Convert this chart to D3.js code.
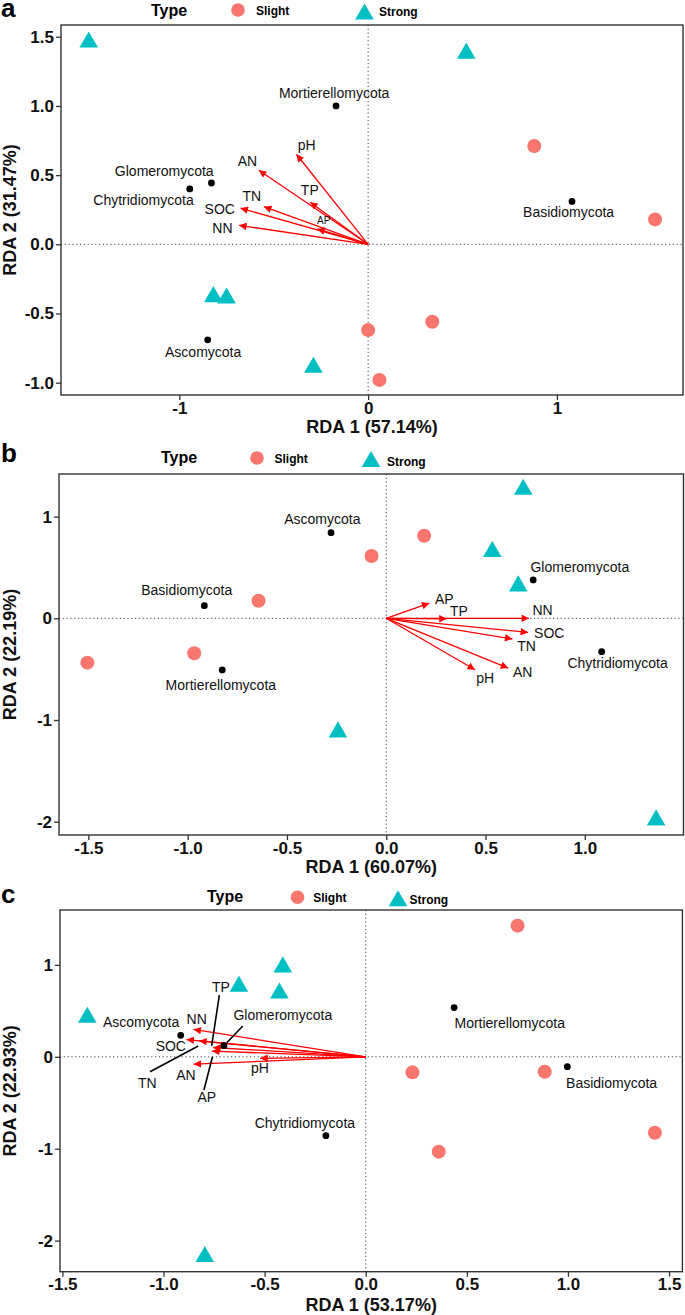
<!DOCTYPE html>
<html><head><meta charset="utf-8">
<script src="https://cdn.jsdelivr.net/npm/d3@7/dist/d3.min.js"></script>
<style>
body{margin:0;background:#fff}
svg{display:block}
text{font-family:"Liberation Sans",Arial,Helvetica,sans-serif}
</style>
</head><body>
<svg id="chart" width="685" height="1315"></svg>
<script>
// ---------------- Panel a ----------------
const aSiteType = ["Strong","Strong","Strong","Strong","Strong","Slight","Slight","Slight","Slight","Slight"];
const aSiteX = [-1.48, 0.52, -0.82, -0.75, -0.29, 0.88, 1.52, 0.00, 0.34, 0.06];
const aSiteY = [1.48, 1.40, -0.36, -0.37, -0.87, 0.71, 0.18, -0.62, -0.56, -0.98];
const aSpecies = ["Mortierellomycota","Glomeromycota","Chytridiomycota","Basidiomycota","Ascomycota"];
const aSpeciesX = [-0.17, -0.83, -0.945, 1.08, -0.85];
const aSpeciesY = [1.00, 0.443, 0.40, 0.31, -0.69];
const aSpeciesLabelX = [-0.18, -1.08, -1.19, 1.062, -0.874];
const aSpeciesLabelY = [1.097, 0.527, 0.317, 0.235, -0.78];
const aEnv = ["pH","AN","TP","TN","SOC","NN","AP"];
const aEnvX = [-0.388, -0.59, -0.318, -0.565, -0.689, -0.697, -0.282];
const aEnvY = [0.665, 0.545, 0.315, 0.278, 0.266, 0.140, 0.116];
const aEnvLabelX = [-0.326, -0.639, -0.309, -0.616, -0.786, -0.772, -0.235];
const aEnvLabelY = [0.721, 0.60, 0.392, 0.349, 0.254, 0.121, 0.174];
const aXTicks = [-1, 0, 1];
const aYTicks = [1.5, 1.0, 0.5, 0.0, -0.5, -1.0];
const aXTitle = "RDA 1 (57.14%)";
const aYTitle = "RDA 2 (31.47%)";

// ---------------- Panel b ----------------
const bSiteType = ["Strong","Strong","Strong","Strong","Strong","Slight","Slight","Slight","Slight","Slight"];
const bSiteX = [0.69, 0.534, 0.665, -0.243, 1.359, 0.191, -0.074, -0.643, -1.505, -0.967];
const bSiteY = [1.294, 0.681, 0.344, -1.092, -1.957, 0.812, 0.613, 0.173, -0.436, -0.344];
const bSpecies = ["Ascomycota","Glomeromycota","Basidiomycota","Chytridiomycota","Mortierellomycota"];
const bSpeciesX = [-0.278, 0.740, -0.916, 1.085, -0.826];
const bSpeciesY = [0.842, 0.377, 0.124, -0.328, -0.508];
const bSpeciesLabelX = [-0.322, 0.975, -1.005, 1.165, -0.833];
const bSpeciesLabelY = [0.973, 0.507, 0.278, -0.443, -0.656];
const bEnv = ["AP","TP","NN","SOC","TN","AN","pH"];
const bEnvX = [0.229, 0.317, 0.732, 0.727, 0.648, 0.626, 0.458];
const bEnvY = [0.157, -0.005, 0.0, -0.141, -0.207, -0.499, -0.518];
const bEnvLabelX = [0.292, 0.366, 0.787, 0.821, 0.707, 0.687, 0.498];
const bEnvLabelY = [0.19, 0.072, 0.082, -0.147, -0.269, -0.525, -0.59];
const bXTicks = [-1.5, -1.0, -0.5, 0.0, 0.5, 1.0];
const bYTicks = [1, 0, -1, -2];
const bXTitle = "RDA 1 (60.07%)";
const bYTitle = "RDA 2 (22.19%)";

// ---------------- Panel c ----------------
const cSiteType = ["Strong","Strong","Strong","Strong","Strong","Slight","Slight","Slight","Slight","Slight"];
const cSiteX = [-0.41, -0.627, -0.427, -1.377, -0.796, 0.751, 0.231, 0.885, 0.361, 1.43];
const cSiteY = [1.005, 0.795, 0.722, 0.458, -2.146, 1.427, -0.169, -0.162, -1.032, -0.826];
const cSpecies = ["Mortierellomycota","Ascomycota","Glomeromycota","Basidiomycota","Chytridiomycota"];
const cSpeciesX = [0.437, -0.915, -0.701, 0.997, -0.197];
const cSpeciesY = [0.535, 0.234, 0.121, -0.107, -0.858];
const cSpeciesLabelX = [0.712, -1.111, -0.41, 1.216, -0.301];
const cSpeciesLabelY = [0.371, 0.382, 0.455, -0.289, -0.717];
const cSpeciesLeaderX = [null, null, -0.608, null, null];
const cSpeciesLeaderY = [null, null, 0.335, null, null];
const cEnv = ["NN","SOC","TN","TP","AP","AN","pH"];
const cEnvX = [-0.864, -0.899, -0.836, -0.767, -0.773, -0.864, -0.534];
const cEnvY = [0.302, 0.19, 0.175, 0.103, 0.063, -0.082, -0.017];
const cEnvLabelX = [-0.836, -0.964, -1.08, -0.716, -0.786, -0.889, -0.523];
const cEnvLabelY = [0.408, 0.118, -0.282, 0.763, -0.434, -0.198, -0.125];
const cEnvLeaderX = [null, null, -1.067, -0.724, -0.80, null, null];
const cEnvLeaderY = [null, null, -0.162, 0.672, -0.361, null, null];
const cEnvLeaderEndX = [null, null, -0.828, -0.762, -0.758, null, null];
const cEnvLeaderEndY = [null, null, 0.118, 0.118, 0.0, null, null];
const cXTicks = [-1.5, -1.0, -0.5, 0.0, 0.5, 1.0, 1.5];
const cYTicks = [1, 0, -1, -2];
const cXTitle = "RDA 1 (53.17%)";
const cYTitle = "RDA 2 (22.93%)";

const legendTitle = "Type";
const legendKeys = ["Slight","Strong"];
const typeColor = {Slight: "#F8766D", Strong: "#00BFC4"};

// ---------------- layout ----------------
const svg = d3.select("#chart");
const defs = svg.append("defs");
defs.append("marker").attr("id","ah")
  .attr("viewBox","0 0 10 10").attr("refX",10).attr("refY",5)
  .attr("markerWidth",8).attr("markerHeight",7.5)
  .attr("markerUnits","userSpaceOnUse").attr("orient","auto")
  .append("path").attr("d","M0,0 L10,5 L0,10 Z").attr("fill","#FF0000");

const triPath = d3.symbol().type(d3.symbolTriangle).size(150)();
const triShift = 2.7; // bbox-centre the d3 triangle on its point

const panels = [
  {tag:"a", box:{l:61,r:683,t:25,b:395}, xd:[-1.627,1.668], yd:[-1.089,1.585],
   xFmt:d=>d.toFixed(0), yFmt:d=>d.toFixed(1),
   tagY:17, legend:{typeX:169, typeY:16, circX:238, circY:10, slX:256, slY:14.5, triX:364.5, triY:11.5, stX:379, stY:15.5},
   xTitleY:432.5,
   siteType:aSiteType, siteX:aSiteX, siteY:aSiteY,
   sp:aSpecies, spX:aSpeciesX, spY:aSpeciesY, spLX:aSpeciesLabelX, spLY:aSpeciesLabelY,
   env:aEnv, envX:aEnvX, envY:aEnvY, envLX:aEnvLabelX, envLY:aEnvLabelY, envSize:{AP:10},
   xTicks:aXTicks, yTicks:aYTicks, xTitle:aXTitle, yTitle:aYTitle},
  {tag:"b", box:{l:59,r:683.5,t:474,b:835}, xd:[-1.648,1.497], yd:[-2.131,1.419],
   xFmt:d=>d.toFixed(1), yFmt:d=>d.toFixed(0),
   tagY:462, legend:{typeX:179, typeY:463, circX:257, circY:458, slX:274.5, slY:463, triX:371, triY:459, stX:387, stY:466},
   xTitleY:873,
   siteType:bSiteType, siteX:bSiteX, siteY:bSiteY,
   sp:bSpecies, spX:bSpeciesX, spY:bSpeciesY, spLX:bSpeciesLabelX, spLY:bSpeciesLabelY,
   env:bEnv, envX:bEnvX, envY:bEnvY, envLX:bEnvLabelX, envLY:bEnvLabelY, envSize:{},
   xTicks:bXTicks, yTicks:bYTicks, xTitle:bXTitle, yTitle:bYTitle},
  {tag:"c", box:{l:60,r:682.4,t:910,b:1271.7}, xd:[-1.512,1.566], yd:[-2.338,1.597],
   xFmt:d=>d.toFixed(1), yFmt:d=>d.toFixed(0),
   tagY:903, legend:{typeX:225, typeY:902, circX:297.5, circY:897.3, slX:313.2, slY:902, triX:398, triY:898.3, stX:409.5, stY:904},
   xTitleY:1311,
   siteType:cSiteType, siteX:cSiteX, siteY:cSiteY,
   sp:cSpecies, spX:cSpeciesX, spY:cSpeciesY, spLX:cSpeciesLabelX, spLY:cSpeciesLabelY,
   spLeadX:cSpeciesLeaderX, spLeadY:cSpeciesLeaderY,
   env:cEnv, envX:cEnvX, envY:cEnvY, envLX:cEnvLabelX, envLY:cEnvLabelY, envSize:{},
   envLeadX:cEnvLeaderX, envLeadY:cEnvLeaderY, envLeadEX:cEnvLeaderEndX, envLeadEY:cEnvLeaderEndY,
   xTicks:cXTicks, yTicks:cYTicks, xTitle:cXTitle, yTitle:cYTitle}
];

panels.forEach(p => {
  const g = svg.append("g");
  const x = d3.scaleLinear().domain(p.xd).range([p.box.l, p.box.r]);
  const y = d3.scaleLinear().domain(p.yd).range([p.box.b, p.box.t]);

  // panel tag
  g.append("text").attr("x",1).attr("y",p.tagY).attr("font-size",26).attr("font-weight","bold").text(p.tag);

  // legend
  const L = p.legend;
  g.append("text").attr("x",L.typeX).attr("y",L.typeY).attr("text-anchor","middle")
    .attr("font-size",16).attr("font-weight","bold").text(legendTitle);
  g.append("circle").attr("cx",L.circX).attr("cy",L.circY).attr("r",6.8).attr("fill",typeColor.Slight);
  g.append("text").attr("x",L.slX).attr("y",L.slY).attr("font-size",12).attr("font-weight","bold").text(legendKeys[0]);
  g.append("path").attr("d",triPath).attr("transform",`translate(${L.triX},${L.triY+triShift})`).attr("fill",typeColor.Strong);
  g.append("text").attr("x",L.stX).attr("y",L.stY).attr("font-size",12).attr("font-weight","bold").text(legendKeys[1]);

  // zero lines
  g.append("line").attr("x1",p.box.l).attr("x2",p.box.r).attr("y1",y(0)).attr("y2",y(0))
    .attr("stroke","#444").attr("stroke-width",1).attr("stroke-dasharray","1.2,2.6");
  g.append("line").attr("y1",p.box.t).attr("y2",p.box.b).attr("x1",x(0)).attr("x2",x(0))
    .attr("stroke","#444").attr("stroke-width",1).attr("stroke-dasharray","1.2,2.6");

  // axes
  const xa = g.append("g").attr("transform",`translate(0,${p.box.b})`)
    .call(d3.axisBottom(x).tickValues(p.xTicks).tickFormat(p.xFmt).tickSize(5).tickPadding(1.5));
  const ya = g.append("g").attr("transform",`translate(${p.box.l},0)`)
    .call(d3.axisLeft(y).tickValues(p.yTicks).tickFormat(p.yFmt).tickSize(5).tickPadding(2));
  [xa, ya].forEach(a => {
    a.select(".domain").remove();
    a.selectAll(".tick line").attr("stroke","#333").attr("stroke-width",1.3);
    a.selectAll(".tick text").attr("fill","#111").attr("font-size",17).attr("font-weight","bold")
      .style("font-family",'"Liberation Sans",Arial,sans-serif');
  });

  // titles
  g.append("text").attr("x",(p.box.l+p.box.r)/2).attr("y",p.xTitleY).attr("text-anchor","middle")
    .attr("font-size",18).attr("font-weight","bold").attr("fill","#111").text(p.xTitle);
  g.append("text").attr("transform",`translate(16,${(p.box.t+p.box.b)/2}) rotate(-90)`).attr("text-anchor","middle")
    .attr("font-size",18).attr("font-weight","bold").attr("fill","#111").text(p.yTitle);

  // env arrows
  p.env.forEach((e,i) => {
    const x0 = x(0), y0 = y(0), x1 = x(p.envX[i]), y1 = y(p.envY[i]);
    const len = Math.hypot(x1-x0, y1-y0), k = (len-2.5)/len;
    g.append("line").attr("x1",x0).attr("y1",y0).attr("x2",x0+(x1-x0)*k).attr("y2",y0+(y1-y0)*k)
      .attr("stroke","#FF0000").attr("stroke-width",1.3).attr("marker-end","url(#ah)");
  });

  // leader lines (panel c)
  if (p.envLeadX) p.env.forEach((e,i) => {
    if (p.envLeadX[i] == null) return;
    g.append("line").attr("x1",x(p.envLeadX[i])).attr("y1",y(p.envLeadY[i]))
      .attr("x2",x(p.envLeadEX[i])).attr("y2",y(p.envLeadEY[i]))
      .attr("stroke","#000").attr("stroke-width",1.6);
  });
  if (p.spLeadX) p.sp.forEach((s,i) => {
    if (p.spLeadX[i] == null) return;
    const sx = x(p.spX[i]), sy = y(p.spY[i]), lx = x(p.spLeadX[i]), ly = y(p.spLeadY[i]);
    const len = Math.hypot(sx-lx, sy-ly), k = (len-4)/len;
    g.append("line").attr("x1",lx).attr("y1",ly).attr("x2",lx+(sx-lx)*k).attr("y2",ly+(sy-ly)*k)
      .attr("stroke","#000").attr("stroke-width",1.6);
  });

  // env labels
  p.env.forEach((e,i) => {
    g.append("text").attr("x",x(p.envLX[i])).attr("y",y(p.envLY[i])).attr("dy","0.36em")
      .attr("text-anchor","middle").attr("font-size",p.envSize[e] || 14).attr("fill","#111").text(e);
  });

  // sites
  p.siteType.forEach((t,i) => {
    if (t === "Slight") {
      g.append("circle").attr("cx",x(p.siteX[i])).attr("cy",y(p.siteY[i])).attr("r",7).attr("fill",typeColor.Slight);
    } else {
      g.append("path").attr("d",triPath).attr("transform",`translate(${x(p.siteX[i])},${y(p.siteY[i])+triShift})`).attr("fill",typeColor.Strong);
    }
  });

  // species
  p.sp.forEach((s,i) => {
    g.append("circle").attr("cx",x(p.spX[i])).attr("cy",y(p.spY[i])).attr("r",3.4).attr("fill","#000");
    g.append("text").attr("x",x(p.spLX[i])).attr("y",y(p.spLY[i])).attr("dy","0.36em")
      .attr("text-anchor","middle").attr("font-size",14).attr("fill","#111").text(s);
  });

  // border
  g.append("rect").attr("x",p.box.l).attr("y",p.box.t).attr("width",p.box.r-p.box.l).attr("height",p.box.b-p.box.t)
    .attr("fill","none").attr("stroke","#333").attr("stroke-width",1.4);
});
</script>
</body></html>
